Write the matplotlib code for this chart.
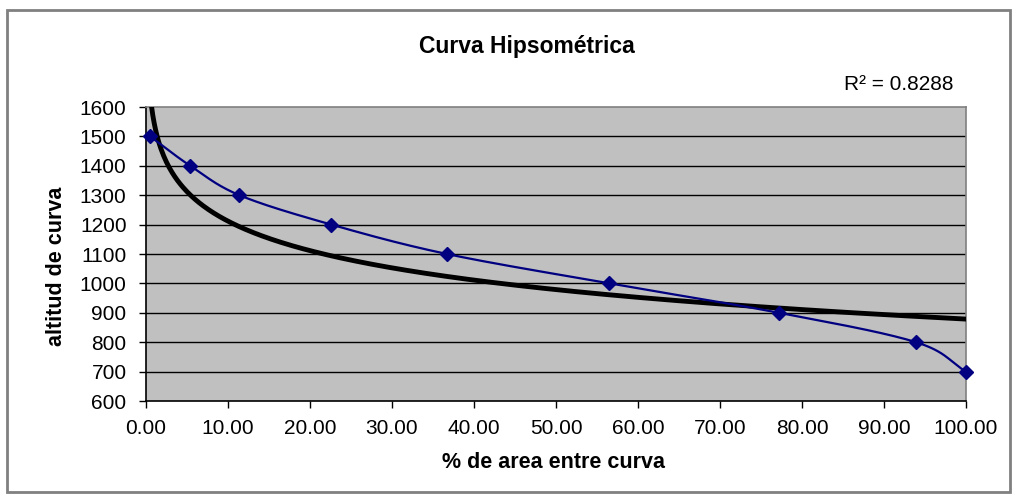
import numpy as np
import matplotlib
matplotlib.use("Agg")
import matplotlib.pyplot as plt
from matplotlib.patches import Rectangle

plt.rcParams['font.family'] = ['Liberation Sans', 'DejaVu Sans']

# datos
area_pct = [0.5, 5.4, 11.4, 22.6, 36.7, 56.5, 77.2, 93.9, 100.0]
altitud = [1500, 1400, 1300, 1200, 1100, 1000, 900, 800, 700]
yticks = list(range(600, 1700, 100))
xticks = list(range(0, 110, 10))
r2_texto = "R² = 0.8288"


def suaviza(x, y, n=30):
    # curva suavizada tipo Excel (Catmull-Rom) entre los puntos
    x = np.asarray(x, float)
    y = np.asarray(y, float)
    px = np.concatenate([[2 * x[0] - x[1]], x, [2 * x[-1] - x[-2]]])
    py = np.concatenate([[2 * y[0] - y[1]], y, [2 * y[-1] - y[-2]]])
    xs, ys = [], []
    t = np.linspace(0, 1, n)
    for i in range(1, len(px) - 2):
        for p, out in ((px, xs), (py, ys)):
            p0, p1, p2, p3 = p[i - 1], p[i], p[i + 1], p[i + 2]
            b1 = p1 + (p2 - p0) / 6
            b2 = p2 - (p3 - p1) / 6
            out.extend((1 - t) ** 3 * p1 + 3 * (1 - t) ** 2 * t * b1 + 3 * (1 - t) * t ** 2 * b2 + t ** 3 * p2)
    return np.array(xs), np.array(ys)


fig = plt.figure(figsize=(10.18, 5.0), dpi=100)
ax = fig.add_axes([146 / 1018, 1 - 401 / 500, 820 / 1018, 294 / 500])
ax.set_facecolor('#C0C0C0')

# linea de tendencia logaritmica
a, b = np.polyfit(np.log(area_pct), altitud, 1)
xt = np.linspace(min(area_pct), max(area_pct), 600)
ax.plot(xt, a * np.log(xt) + b, color='black', lw=3.5, zorder=3)

xs, ys = suaviza(area_pct, altitud)
ax.plot(xs, ys, color='#000080', lw=1.6, zorder=4)
ax.plot(area_pct, altitud, ls='none', marker='D', ms=7.5, color='#000080', zorder=5, clip_on=False)

ax.set_xlim(0, 100)
ax.set_ylim(600, 1600)
ax.set_xticks(xticks)
ax.set_xticklabels(["%.2f" % v for v in xticks])
ax.set_yticks(yticks)
ax.tick_params(labelsize=15, direction='out', length=5, width=1, color='black')
ax.tick_params(axis='y', pad=9)
ax.tick_params(axis='x', pad=8)
for v in yticks[1:-1]:
    ax.axhline(v, color='black', lw=1, zorder=1)
for s in ['top', 'right']:
    ax.spines[s].set_color('#808080')
for s in ['left', 'bottom']:
    ax.spines[s].set_color('black')
for s in ax.spines.values():
    s.set_linewidth(1.2)

fig.text(553 / 1018, 1 - 463 / 500, '% de area entre curva', fontsize=15.5, fontweight='bold',
         ha='center', va='center')
fig.text(57 / 1018, 1 - 266 / 500, 'altitud de curva', fontsize=15.5, fontweight='bold',
         ha='center', va='center', rotation=90)
fig.text(527 / 1018, 1 - 47 / 500, 'Curva Hipsométrica', fontsize=16.5, fontweight='bold',
         ha='center', va='center')
fig.text(953 / 1018, 1 - 84 / 500, r2_texto, fontsize=15, ha='right', va='center')

fig.patches.append(Rectangle((7 / 1018, 8 / 500), 1003 / 1018, 482 / 500, transform=fig.transFigure,
                             fill=False, edgecolor='#808080', lw=2))

fig.savefig('out.png', dpi=100)
